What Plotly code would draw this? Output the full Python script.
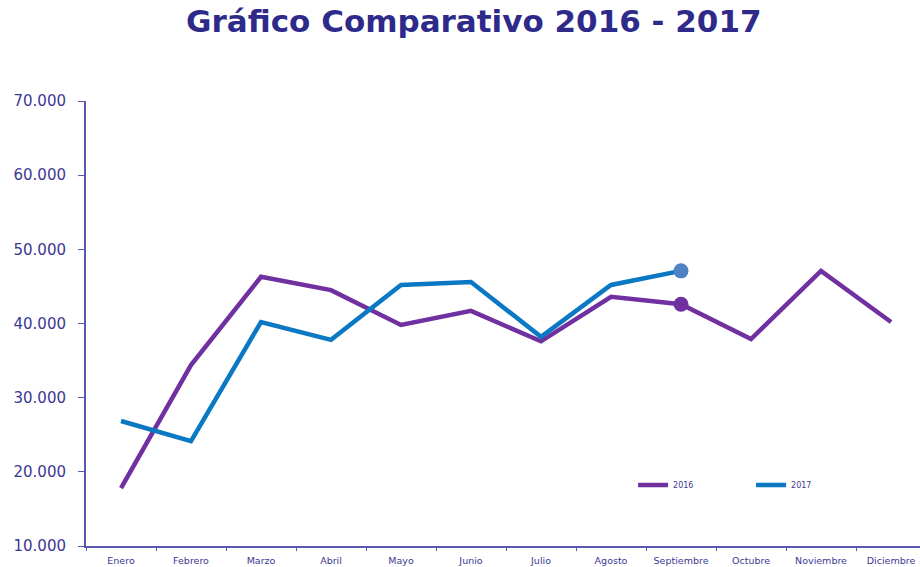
import plotly.graph_objects as go

meses = ["Enero", "Febrero", "Marzo", "Abril", "Mayo", "Junio", "Julio",
         "Agosto", "Septiembre", "Octubre", "Noviembre", "Diciembre"]
v2016 = [17800, 34400, 46300, 44500, 39800, 41700, 37600, 43600, 42600, 37900, 47100, 40200]
v2017 = [26850, 24150, 40200, 37800, 45200, 45600, 38200, 45200, 47100]
y_ticks = [10000, 20000, 30000, 40000, 50000, 60000, 70000]
y_tick_labels = ["10.000", "20.000", "30.000", "40.000", "50.000", "60.000", "70.000"]

purple = "#7030A0"
blue = "#0A78C2"
axis_color = "#5A57B0"
text_color = "#3B3894"

fig = go.Figure()
fig.add_trace(go.Scatter(x=meses, y=v2016, mode="lines", name="2016",
                         line=dict(color=purple, width=4.5)))
fig.add_trace(go.Scatter(x=meses[:len(v2017)], y=v2017, mode="lines", name="2017",
                         line=dict(color=blue, width=4.5)))
# end markers
fig.add_trace(go.Scatter(x=[meses[8]], y=[v2016[8]], mode="markers", showlegend=False,
                         marker=dict(color=purple, size=15)))
fig.add_trace(go.Scatter(x=[meses[len(v2017) - 1]], y=[v2017[-1]], mode="markers", showlegend=False,
                         marker=dict(color="#4F82C4", size=15)))

fig.update_layout(
    width=920, height=567,
    autosize=False,
    margin=dict(l=86, r=0, t=101, b=21, autoexpand=False),
    paper_bgcolor="white", plot_bgcolor="white",
    title=dict(text="<b>Gráfico Comparativo 2016 - 2017</b>", x=0.515, xanchor="center",
               y=0.962, yanchor="middle",
               font=dict(family="DejaVu Sans", size=31, color="#2E2A8A")),
    showlegend=True,
    legend=dict(orientation="h", x=0.656, y=0.137, xanchor="left", yanchor="middle",
                font=dict(family="DejaVu Sans", size=8, color=text_color),
                bgcolor="rgba(0,0,0,0)", itemwidth=30, tracegroupgap=0,
                entrywidth=73),
    font=dict(family="DejaVu Sans", color=text_color),
)
fig.update_xaxes(type="category", range=[-0.5, 11.414], showgrid=False, automargin=False,
                 showline=True, linecolor=axis_color, linewidth=2,
                 ticks="outside", ticklen=3, tickcolor=axis_color, tickson="boundaries",
                 ticklabelstandoff=5,
                 tickfont=dict(size=9.5, color=text_color), zeroline=False)
fig.update_yaxes(range=[10000, 70000], tickvals=y_ticks, ticktext=y_tick_labels,
                 showgrid=False, showline=True, linecolor=axis_color, linewidth=2,
                 automargin=False, ticklabelstandoff=9,
                 ticks="outside", ticklen=6, tickcolor=axis_color,
                 tickfont=dict(size=15, color=text_color), zeroline=False)

fig.write_html("out.html", config={"displayModeBar": False},
               post_script="document.body.style.margin='0px';")
